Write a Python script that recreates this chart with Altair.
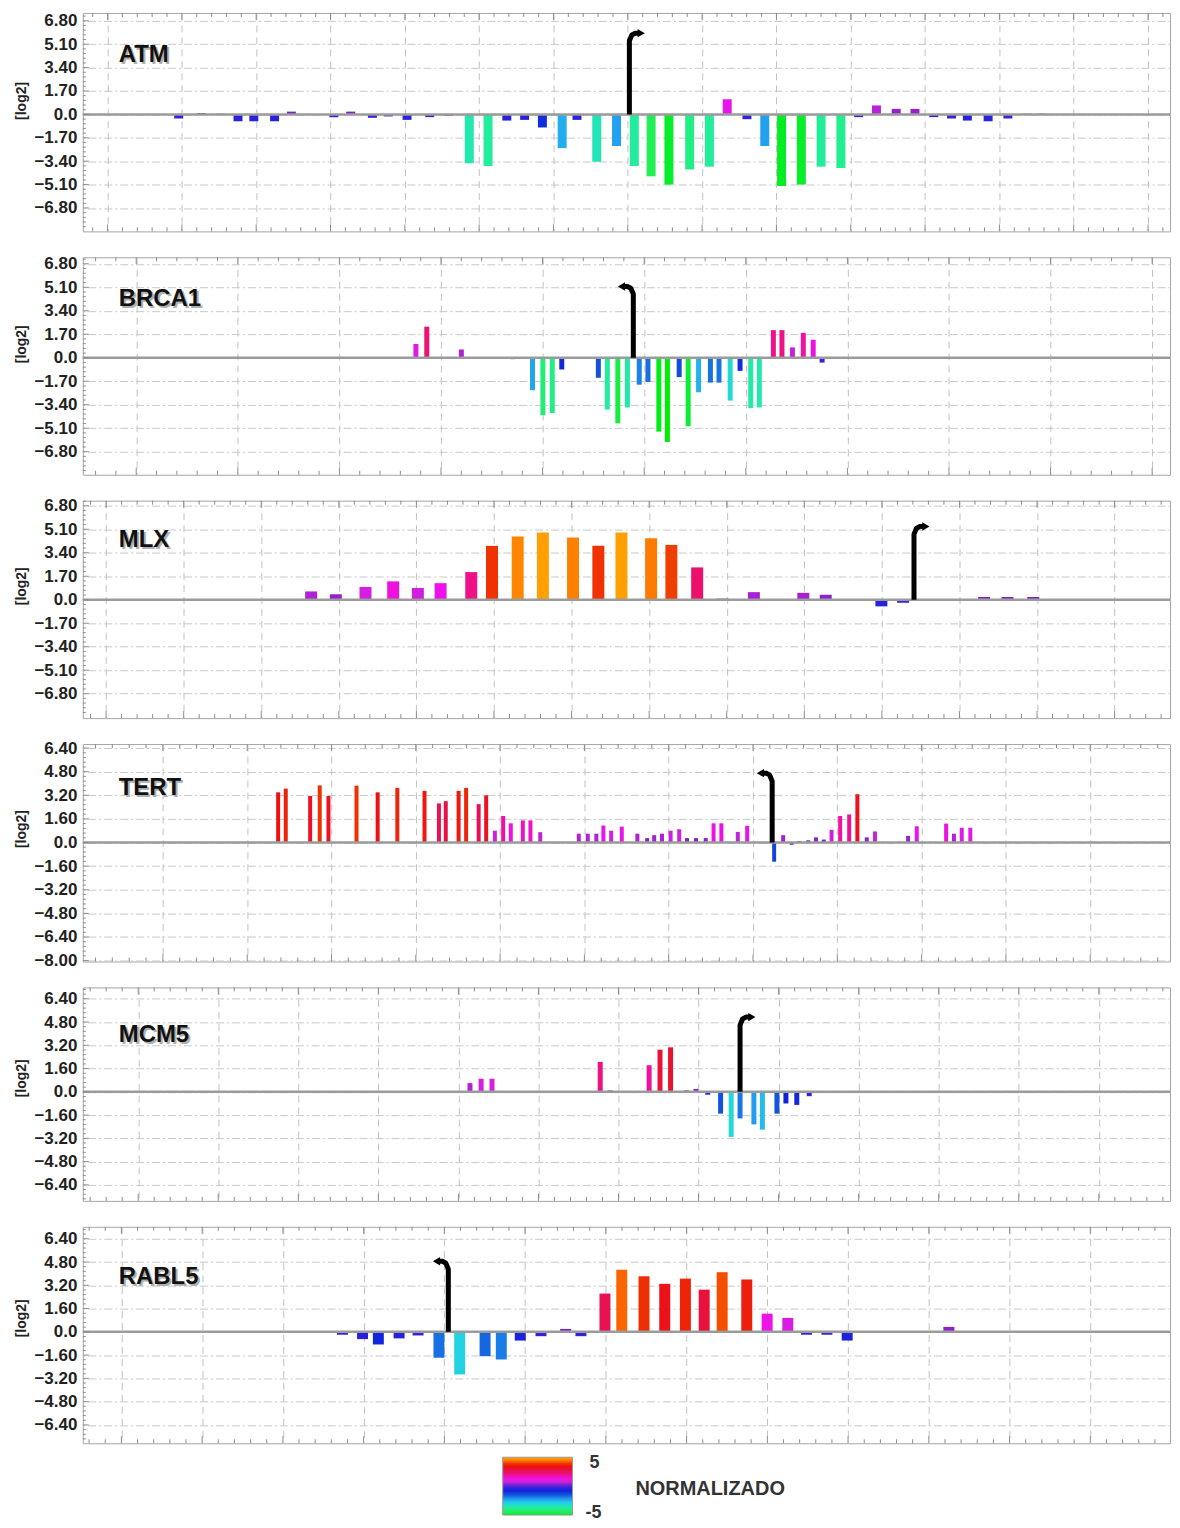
import math
import altair as alt
import pandas as pd

FONT = "Liberation Sans"
X_MIN, X_MAX = 81, 1171
PLOT_W = 1090

# ---------------- data (position along the locus, log2 value) ----------------
ATM_POS = [173, 196, 215, 233, 249, 270, 287, 330, 347, 369, 385, 404, 427, 446,
           467, 486, 505, 523, 541, 561, 576, 596, 616, 634, 651, 669, 690, 710,
           728, 748, 766, 783, 803, 823, 843, 861, 879, 899, 918, 937, 955, 971,
           992, 1012, 1032, 1046]
ATM_VAL = [-0.3, 0.1, 0.05, -0.5, -0.5, -0.5, 0.2, -0.2, 0.2, -0.25, -0.15, -0.4, -0.2, -0.1,
           -3.55, -3.75, -0.45, -0.4, -0.95, -2.45, -0.4, -3.45, -2.3, -3.75, -4.5, -5.1, -4.0, -3.8,
           1.1, -0.35, -2.3, -5.2, -5.1, -3.8, -3.9, -0.2, 0.65, 0.4, 0.4, -0.2, -0.3, -0.45,
           -0.5, -0.3, 0.05, 0.05]
ATM_TSS = (629, 5.9, 1)

BRCA1_POS = [413, 424, 459, 476, 488, 499, 511, 519, 531, 541.5, 551, 560.6, 597.6, 606.7,
             617.3, 627, 639, 647.8, 658.8, 667.5, 679.4, 688.5, 699, 711, 719.7, 731, 741,
             751.8, 760.5, 774.7, 783.4, 794, 805, 815, 824]
BRCA1_VAL = [1.0, 2.25, 0.6, 0.05, 0.05, 0.05, -0.1, 0.05, -2.35, -4.15, -4.0, -0.85, -1.45, -3.75,
             -4.75, -3.6, -1.95, -1.75, -5.35, -6.1, -1.4, -4.95, -2.5, -1.8, -1.8, -3.1, -0.95,
             -3.65, -3.6, 2.0, 2.0, 0.75, 1.8, 1.3, -0.35]
BRCA1_TSS = (633, 5.16, -1)

MLX_POS = [280, 307, 332, 362, 390, 415, 438, 469, 490, 516, 541.5, 572, 597.6, 621,
           651, 671.5, 697.6, 723.3, 755, 805, 827.7, 884, 906, 961, 988, 1011.6, 1037.7, 1063]
MLX_VAL = [0.05, 0.6, 0.4, 0.92, 1.33, 0.85, 1.2, 2.0, 3.9, 4.58, 4.87, 4.5, 3.9, 4.87,
           4.45, 3.97, 2.34, 0.08, 0.55, 0.5, 0.36, -0.48, -0.22, 0.05, 0.2, 0.2, 0.2, 0.05]
MLX_TSS = (917, 5.3, 1)

TERT_POS = [273.6, 281.3, 306, 315.7, 324.5, 352.9, 374.3, 394.2, 421.7, 436.3,
            443.2, 456.2, 463.8, 476.5, 484.1, 492.9, 501.3, 509, 521.2, 528.9,
            538.8, 546.5, 577.8, 586.9, 595.6, 602.7, 610.6, 621.3, 629.2, 637.1,
            647, 654.1, 662, 670.7, 679.4, 687.3, 696.4, 706.3, 714.2, 722.1,
            730, 738.7, 748.2, 757.7, 775.5, 784.6, 793.3, 801, 810, 817.8,
            825.7, 833.6, 842.3, 851.4, 859.7, 869.2, 877.5, 903.2, 911, 919.8,
            949.5, 957.4, 965.3, 974]
TERT_VAL = [3.4, 3.65, 3.15, 3.87, 3.15, 3.85, 3.4, 3.7, 3.5, 2.65,
            2.8, 3.5, 3.7, 2.6, 3.2, 0.8, 1.8, 1.3, 1.5, 1.5,
            0.7, 0.03, 0.6, 0.6, 0.6, 1.15, 0.8, 1.08, 0.05, 0.6,
            0.3, 0.5, 0.6, 0.8, 0.9, 0.3, 0.3, 0.3, 1.3, 1.3,
            0.05, 0.72, 1.13, 0.05, -1.3, 0.5, -0.15, 0.1, 0.15, 0.35,
            0.2, 0.86, 1.8, 1.9, 3.27, 0.35, 0.75, 0.05, 0.45, 1.1,
            1.28, 0.6, 1.0, 1.0]
TERT_TSS = (773.5, 4.7, -1)

MCM5_POS = [467.7, 479, 490, 599.5, 609.4, 649, 660, 670.7, 686.5, 696.4,
            708.3, 721.3, 732, 741, 755, 763.6, 778.3, 787.4, 798.4, 811]
MCM5_VAL = [0.6, 0.9, 0.9, 2.06, 0.1, 1.83, 2.9, 3.06, 0.1, 0.2,
            -0.2, -1.5, -3.1, -1.83, -2.24, -2.6, -1.5, -0.8, -0.9, -0.3]
MCM5_TSS = (741, 5.14, 1)

RABL5_POS = [338.7, 359, 375, 396, 415.2, 436.3, 457.3, 483, 499.4, 518.6,
             539.6, 564.5, 580, 604.3, 621.3, 643.8, 664.8, 685.7, 704.7, 722.9,
             747.8, 768.4, 789.3, 808.3, 828.9, 849.4, 866.4, 888, 912, 931.7, 952.3]
RABL5_VAL = [-0.2, -0.5, -0.87, -0.45, -0.25, -1.78, -2.93, -1.67, -1.9, -0.6,
             -0.3, 0.2, -0.3, 2.63, 4.27, 3.82, 3.3, 3.66, 2.9, 4.1,
             3.6, 1.25, 0.96, -0.2, -0.2, -0.6, -0.05, 0.05, 0.02, 0.02, 0.34]
RABL5_TSS = (445.8, 4.85, -1)

TICKS_68 = [6.8, 5.1, 3.4, 1.7, 0.0, -1.7, -3.4, -5.1, -6.8]
TICKS_64 = [6.4, 4.8, 3.2, 1.6, 0.0, -1.6, -3.2, -4.8, -6.4]
TICKS_TERT = [6.4, 4.8, 3.2, 1.6, 0.0, -1.6, -3.2, -4.8, -6.4, -8.0]

COLOR_DOMAIN = [-5.2, -4.5, -3.8, -3.2, -2.8, -2.2, -1.5, -0.8, -0.2, 0.3, 0.8, 1.2,
                2.0, 2.8, 3.4, 3.9, 4.4, 5.0]
COLOR_RANGE = ['#00ee22', '#22ee55', '#22ee99', '#22ddcc', '#22ccee', '#2299ee', '#1155dd',
               '#1122dd', '#3a22dd', '#8822cc', '#cc22dd', '#ee11ee', '#ee1188', '#e61144',
               '#ee1111', '#ee3300', '#ff7700', '#ffaa00']

LEGEND_TITLE = "NORMALIZADO"
LEGEND_LABELS = ["5", "-5"]

PANELS = [
    dict(name="ATM", pos=ATM_POS, val=ATM_VAL, tss=ATM_TSS, grid0=101, gstep=75.2,
         yticks=TICKS_68, ystep=0.34, ydomain=[-8.5, 7.37], height=219, barw=9, label_y=42),
    dict(name="BRCA1", pos=BRCA1_POS, val=BRCA1_VAL, tss=BRCA1_TSS, grid0=130, gstep=102.8,
         yticks=TICKS_68, ystep=0.34, ydomain=[-8.47, 7.27], height=218, barw=5, label_y=42),
    dict(name="MLX", pos=MLX_POS, val=MLX_VAL, tss=MLX_TSS, grid0=99.5, gstep=78.5,
         yticks=TICKS_68, ystep=0.34, ydomain=[-8.57, 7.17], height=218, barw=12, label_y=39),
    dict(name="TERT", pos=TERT_POS, val=TERT_VAL, tss=TERT_TSS, grid0=157, gstep=85.3,
         yticks=TICKS_TERT, ystep=0.32, ydomain=[-8.06, 6.67], height=218, barw=4, label_y=44),
    dict(name="MCM5", pos=MCM5_POS, val=MCM5_VAL, tss=MCM5_TSS, grid0=132, gstep=81,
         yticks=TICKS_64, ystep=0.32, ydomain=[-7.5, 7.18], height=214, barw=5, label_y=48),
    dict(name="RABL5", pos=RABL5_POS, val=RABL5_VAL, tss=RABL5_TSS, grid0=115, gstep=81.7,
         yticks=TICKS_64, ystep=0.32, ydomain=[-7.66, 7.22], height=217, barw=11, label_y=50),
]

cscale = alt.Scale(domain=COLOR_DOMAIN, range=COLOR_RANGE, interpolate="rgb")


def build_panel(cfg, with_legend=False):
    H = cfg["height"]
    y0, y1 = cfg["ydomain"]
    xs = alt.Scale(domain=[X_MIN, X_MAX], nice=False, zero=False)
    ys = alt.Scale(domain=[y0, y1], nice=False, zero=False)
    zero_px = y1 * H / (y1 - y0)

    g0, gs = cfg["grid0"], cfg["gstep"]
    xgrid = [round(g0 + gs * i, 1) for i in range(40) if g0 + gs * i <= X_MAX]
    sub = gs / 5
    k0 = math.ceil((X_MIN - g0) / sub)
    k1 = math.floor((X_MAX - g0) / sub)
    xminor = [round(g0 + k * sub, 2) for k in range(k0, k1 + 1) if k % 5 != 0]

    ysub = cfg["ystep"]
    j0 = math.ceil(y0 / ysub)
    j1 = math.floor(y1 / ysub)
    yminor = [round(j * ysub, 3) for j in range(j0, j1 + 1) if j % 5 != 0]

    xaxis = alt.Axis(values=xgrid, grid=True, gridDash=[7, 5], gridColor="#c2c2c2",
                     gridWidth=1, ticks=False, labels=False, domain=False, title=None)
    yaxis = alt.Axis(values=cfg["yticks"], grid=True, gridDash=[2, 3, 8, 3],
                     gridColor="#c8c8c8", gridWidth=1, labelOverlap=False,
                     labelExpr="datum.value == 0 ? '0.0' : format(datum.value, '.2f')",
                     labelFont=FONT, labelFontWeight="bold", labelFontSize=17,
                     labelColor="#222", labelPadding=6, ticks=False, tickSize=0,
                     domain=False, title="[log2]", titleFont=FONT, titleFontSize=14,
                     titleFontWeight="bold", titleColor="#222", titlePadding=5,
                     titleY=zero_px - 14)

    X = lambda: alt.X("pos:Q", scale=xs, axis=xaxis)
    Y = lambda: alt.Y("val:Q", scale=ys, axis=yaxis)

    bars = alt.Chart(pd.DataFrame({"pos": cfg["pos"], "val": cfg["val"]})).mark_bar(
        size=cfg["barw"]).encode(
        x=X(), y=Y(), y2=alt.datum(0),
        color=alt.Color("val:Q", scale=cscale, legend=None),
    )

    zero = alt.Chart(pd.DataFrame({"val": [0.0]})).mark_rule(
        color="#9b9b9b", strokeWidth=2.5).encode(y=Y())

    def xrule(vals, ya, yb):
        return alt.Chart(pd.DataFrame({"pos": vals})).mark_rule(
            color="#8c8c8c", strokeWidth=1).encode(
            x=X(), y=alt.value(ya), y2=alt.value(yb))

    def yrule(vals, xa, xb):
        return alt.Chart(pd.DataFrame({"val": vals})).mark_rule(
            color="#8c8c8c", strokeWidth=1).encode(
            y=Y(), x=alt.value(xa), x2=alt.value(xb))

    ticks = [
        xrule(xgrid, 0, 7), xrule(xminor, 0, 4),
        xrule(xgrid, H - 7, H), xrule(xminor, H - 4, H),
        yrule(cfg["yticks"], 0, 6), yrule(yminor, 0, 3),
    ]

    tx, ttop, d = cfg["tss"]
    arrow_df = pd.DataFrame({
        "i": [0, 1, 2, 3, 4],
        "pos": [tx, tx, tx + d * 2.5, tx + d * 6, tx + d * 10],
        "val": [0, ttop - 0.55, ttop - 0.13, ttop, ttop],
    })
    arrow = alt.Chart(arrow_df).mark_line(
        color="black", strokeWidth=5, strokeJoin="round").encode(
        x=X(), y=Y(), order="i:Q")
    head = alt.Chart(pd.DataFrame({"pos": [tx + d * 12], "val": [ttop]})).mark_point(
        shape="triangle-right" if d > 0 else "triangle-left", filled=True, size=70,
        color="black", opacity=1).encode(x=X(), y=Y())

    lab_df = pd.DataFrame({"t": [cfg["name"]]})
    shadow = alt.Chart(lab_df).mark_text(
        align="left", baseline="middle", font=FONT, fontWeight="bold", fontSize=24,
        color="#b0b0b0", dx=2, dy=2).encode(
        text="t:N", x=alt.value(36), y=alt.value(cfg["label_y"]))
    label = alt.Chart(lab_df).mark_text(
        align="left", baseline="middle", font=FONT, fontWeight="bold", fontSize=24,
        color="#111").encode(
        text="t:N", x=alt.value(36), y=alt.value(cfg["label_y"]))

    layers = [bars, zero] + ticks + [arrow, head, shadow, label]

    if with_legend:
        stops = []
        for dv, c in sorted(zip(COLOR_DOMAIN, COLOR_RANGE), key=lambda p: -p[0]):
            off = min(1.0, max(0.0, (5.0 - dv) / 10.0))
            stops.append(alt.GradientStop(offset=off, color=c))
        grad = alt.LinearGradient(gradient="linear", stops=stops, x1=0, x2=0, y1=0, y2=1)
        one = pd.DataFrame({"k": [0]})
        cbar = alt.Chart(one).mark_rect(color=grad, stroke="#999", strokeWidth=1).encode(
            x=alt.value(421), x2=alt.value(491), y=alt.value(H + 14), y2=alt.value(H + 72))
        t5 = alt.Chart(pd.DataFrame({"t": [LEGEND_LABELS[0]]})).mark_text(
            align="center", baseline="middle", font=FONT, fontWeight="bold", fontSize=18,
            color="#333").encode(text="t:N", x=alt.value(513), y=alt.value(H + 20))
        tm5 = alt.Chart(pd.DataFrame({"t": [LEGEND_LABELS[1]]})).mark_text(
            align="center", baseline="middle", font=FONT, fontWeight="bold", fontSize=18,
            color="#333").encode(text="t:N", x=alt.value(512), y=alt.value(H + 70))
        ttl = alt.Chart(pd.DataFrame({"t": [LEGEND_TITLE]})).mark_text(
            align="left", baseline="middle", font=FONT, fontWeight="bold", fontSize=20,
            color="#333").encode(text="t:N", x=alt.value(554), y=alt.value(H + 46))
        layers += [cbar, t5, tm5, ttl]

    return alt.layer(*layers).properties(width=PLOT_W, height=H)


charts = [build_panel(c, with_legend=(i == len(PANELS) - 1)) for i, c in enumerate(PANELS)]

chart = alt.vconcat(*charts, spacing=26, bounds="flush").resolve_scale(
    x="independent", y="independent"
).properties(
    padding={"left": 6, "top": 1, "right": 0, "bottom": 0}
).configure_view(stroke="#a5a5a5", strokeWidth=1)

chart.save("out.html", embed_options={"renderer": "svg", "actions": False})
